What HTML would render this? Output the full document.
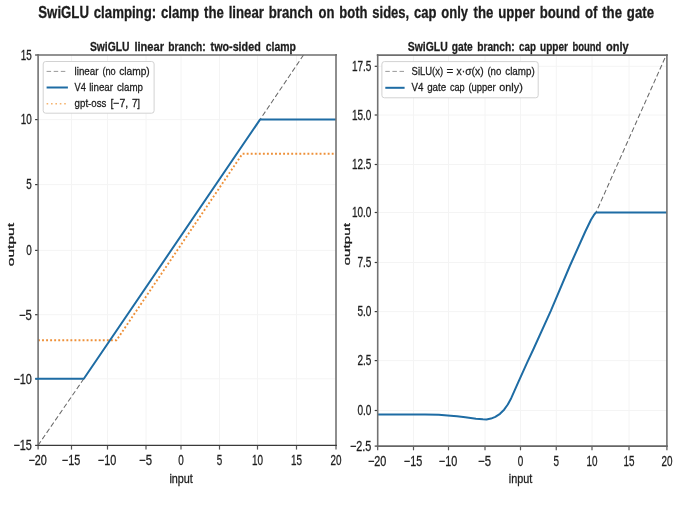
<!DOCTYPE html>
<html><head><meta charset="utf-8"><title>SwiGLU clamping</title>
<style>html,body{margin:0;padding:0;background:#fff;}body{width:680px;height:510px;overflow:hidden;}svg{display:block;filter:blur(0.35px);}text{font-family:"Liberation Sans", sans-serif;fill:#1c1c1c;stroke:#1c1c1c;stroke-width:0.28px;}</style>
</head><body>
<svg width="680" height="510" viewBox="0 0 680 510">
<rect x="-5" y="-5" width="690" height="520" fill="#ffffff"/>
<text x="38.3" y="18.3" font-size="15.6" font-weight="bold" text-anchor="start" textLength="274.5" lengthAdjust="spacingAndGlyphs" stroke-width="0.3" word-spacing="1.4">SwiGLU clamping: clamp the linear branch</text>
<text x="318.6" y="18.3" font-size="15.6" font-weight="bold" text-anchor="start" textLength="149.4" lengthAdjust="spacingAndGlyphs" stroke-width="0.3" word-spacing="1.4">on both sides, cap only</text>
<text x="473.6" y="18.3" font-size="15.6" font-weight="bold" text-anchor="start" textLength="180.4" lengthAdjust="spacingAndGlyphs" stroke-width="0.3" word-spacing="1.4">the upper bound of the gate</text>
<line x1="71.5" y1="55.0" x2="71.5" y2="445.4" stroke="#f4f4f4" stroke-width="1"/>
<line x1="107.5" y1="55.0" x2="107.5" y2="445.4" stroke="#f4f4f4" stroke-width="1"/>
<line x1="146" y1="55.0" x2="146" y2="445.4" stroke="#f4f4f4" stroke-width="1"/>
<line x1="181" y1="55.0" x2="181" y2="445.4" stroke="#f4f4f4" stroke-width="1"/>
<line x1="219.5" y1="55.0" x2="219.5" y2="445.4" stroke="#f4f4f4" stroke-width="1"/>
<line x1="257.5" y1="55.0" x2="257.5" y2="445.4" stroke="#f4f4f4" stroke-width="1"/>
<line x1="296.5" y1="55.0" x2="296.5" y2="445.4" stroke="#f4f4f4" stroke-width="1"/>
<line x1="38.1" y1="119.6" x2="336.0" y2="119.6" stroke="#f4f4f4" stroke-width="1"/>
<line x1="38.1" y1="184.6" x2="336.0" y2="184.6" stroke="#f4f4f4" stroke-width="1"/>
<line x1="38.1" y1="250.4" x2="336.0" y2="250.4" stroke="#f4f4f4" stroke-width="1"/>
<line x1="38.1" y1="314.7" x2="336.0" y2="314.7" stroke="#f4f4f4" stroke-width="1"/>
<line x1="38.1" y1="378.8" x2="336.0" y2="378.8" stroke="#f4f4f4" stroke-width="1"/>
<clipPath id="cl"><rect x="38.1" y="55.0" width="297.9" height="390.4"/></clipPath>
<g clip-path="url(#cl)" fill="none">
<line x1="38" y1="445.4" x2="83.8" y2="378.8" stroke="#6a6a6a" stroke-width="1.05" stroke-dasharray="5.0 2.6"/>
<line x1="260.0" y1="119.6" x2="303.5" y2="55.0" stroke="#6a6a6a" stroke-width="1.05" stroke-dasharray="5.0 2.6" stroke-dashoffset="3"/>
<polyline points="38,340.3 116.5,340.3 242.4,153.8 336,153.8" stroke="#ee9038" stroke-width="1.9" stroke-dasharray="1.9 2.15"/>
<polyline points="35.5,378.8 83.8,378.8 260.0,119.6 336,119.6" stroke="#1e6ca4" stroke-width="2.0" stroke-linejoin="round"/>
</g>
<line x1="38.1" y1="445.4" x2="38.1" y2="449.59999999999997" stroke="#555" stroke-width="1.2"/>
<text x="28.4" y="465.09999999999997" font-size="13.8" font-weight="normal" text-anchor="start" textLength="18.4" lengthAdjust="spacingAndGlyphs">−20</text>
<line x1="71.5" y1="445.4" x2="71.5" y2="449.59999999999997" stroke="#555" stroke-width="1.2"/>
<text x="61.8" y="465.09999999999997" font-size="13.8" font-weight="normal" text-anchor="start" textLength="18.4" lengthAdjust="spacingAndGlyphs">−15</text>
<line x1="107.5" y1="445.4" x2="107.5" y2="449.59999999999997" stroke="#555" stroke-width="1.2"/>
<text x="97.8" y="465.09999999999997" font-size="13.8" font-weight="normal" text-anchor="start" textLength="18.4" lengthAdjust="spacingAndGlyphs">−10</text>
<line x1="146" y1="445.4" x2="146" y2="449.59999999999997" stroke="#555" stroke-width="1.2"/>
<text x="139.1" y="465.09999999999997" font-size="13.8" font-weight="normal" text-anchor="start" textLength="12.9" lengthAdjust="spacingAndGlyphs">−5</text>
<line x1="181" y1="445.4" x2="181" y2="449.59999999999997" stroke="#555" stroke-width="1.2"/>
<text x="178.2" y="465.09999999999997" font-size="13.8" font-weight="normal" text-anchor="start" textLength="5.5" lengthAdjust="spacingAndGlyphs">0</text>
<line x1="219.5" y1="445.4" x2="219.5" y2="449.59999999999997" stroke="#555" stroke-width="1.2"/>
<text x="216.8" y="465.09999999999997" font-size="13.8" font-weight="normal" text-anchor="start" textLength="5.5" lengthAdjust="spacingAndGlyphs">5</text>
<line x1="257.5" y1="445.4" x2="257.5" y2="449.59999999999997" stroke="#555" stroke-width="1.2"/>
<text x="252.0" y="465.09999999999997" font-size="13.8" font-weight="normal" text-anchor="start" textLength="11.0" lengthAdjust="spacingAndGlyphs">10</text>
<line x1="296.5" y1="445.4" x2="296.5" y2="449.59999999999997" stroke="#555" stroke-width="1.2"/>
<text x="291.0" y="465.09999999999997" font-size="13.8" font-weight="normal" text-anchor="start" textLength="11.0" lengthAdjust="spacingAndGlyphs">15</text>
<line x1="336.0" y1="445.4" x2="336.0" y2="449.59999999999997" stroke="#555" stroke-width="1.2"/>
<text x="330.5" y="465.09999999999997" font-size="13.8" font-weight="normal" text-anchor="start" textLength="11.0" lengthAdjust="spacingAndGlyphs">20</text>
<line x1="35.1" y1="55.0" x2="38.1" y2="55.0" stroke="#3a3a3a" stroke-width="1.2"/>
<text x="20.8" y="59.85" font-size="13.8" font-weight="normal" text-anchor="start" textLength="11.0" lengthAdjust="spacingAndGlyphs">15</text>
<line x1="35.1" y1="119.6" x2="38.1" y2="119.6" stroke="#3a3a3a" stroke-width="1.2"/>
<text x="20.8" y="124.44999999999999" font-size="13.8" font-weight="normal" text-anchor="start" textLength="11.0" lengthAdjust="spacingAndGlyphs">10</text>
<line x1="35.1" y1="184.6" x2="38.1" y2="184.6" stroke="#3a3a3a" stroke-width="1.2"/>
<text x="26.3" y="189.45" font-size="13.8" font-weight="normal" text-anchor="start" textLength="5.5" lengthAdjust="spacingAndGlyphs">5</text>
<line x1="35.1" y1="250.4" x2="38.1" y2="250.4" stroke="#3a3a3a" stroke-width="1.2"/>
<text x="26.3" y="255.25" font-size="13.8" font-weight="normal" text-anchor="start" textLength="5.5" lengthAdjust="spacingAndGlyphs">0</text>
<line x1="35.1" y1="314.7" x2="38.1" y2="314.7" stroke="#3a3a3a" stroke-width="1.2"/>
<text x="18.9" y="319.55" font-size="13.8" font-weight="normal" text-anchor="start" textLength="12.9" lengthAdjust="spacingAndGlyphs">−5</text>
<line x1="35.1" y1="378.8" x2="38.1" y2="378.8" stroke="#3a3a3a" stroke-width="1.2"/>
<text x="13.4" y="383.65000000000003" font-size="13.8" font-weight="normal" text-anchor="start" textLength="18.4" lengthAdjust="spacingAndGlyphs">−10</text>
<line x1="35.1" y1="445.4" x2="38.1" y2="445.4" stroke="#3a3a3a" stroke-width="1.2"/>
<text x="13.4" y="450.25" font-size="13.8" font-weight="normal" text-anchor="start" textLength="18.4" lengthAdjust="spacingAndGlyphs">−15</text>
<line x1="38.1" y1="54.1" x2="38.1" y2="446.0" stroke="#727272" stroke-width="1.6"/>
<line x1="336.0" y1="54.1" x2="336.0" y2="446.0" stroke="#727272" stroke-width="1.6"/>
<line x1="37.2" y1="55.0" x2="336.9" y2="55.0" stroke="#6e6e6e" stroke-width="1.7"/>
<line x1="37.2" y1="445.4" x2="336.9" y2="445.4" stroke="#3a3a3a" stroke-width="1.3"/>
<line x1="35.3" y1="378.8" x2="39" y2="378.8" stroke="#1e6ca4" stroke-width="2.0"/>
<text x="89.9" y="51.0" font-size="12.8" font-weight="bold" text-anchor="start" textLength="39.6" lengthAdjust="spacingAndGlyphs" stroke-width="0.5">SwiGLU</text>
<text x="134.4" y="51.0" font-size="12.8" font-weight="bold" text-anchor="start" textLength="29.6" lengthAdjust="spacingAndGlyphs" stroke-width="0.5">linear</text>
<text x="168.3" y="51.0" font-size="12.8" font-weight="bold" text-anchor="start" textLength="37.4" lengthAdjust="spacingAndGlyphs" stroke-width="0.5">branch:</text>
<text x="210.6" y="51.0" font-size="12.8" font-weight="bold" text-anchor="start" textLength="50.1" lengthAdjust="spacingAndGlyphs" stroke-width="0.5">two-sided</text>
<text x="265.7" y="51.0" font-size="12.8" font-weight="bold" text-anchor="start" textLength="30.3" lengthAdjust="spacingAndGlyphs" stroke-width="0.5">clamp</text>
<text x="169.4" y="482.8" font-size="12" font-weight="normal" text-anchor="start" textLength="23.5" lengthAdjust="spacingAndGlyphs">input</text>
<text transform="translate(13.5,266.2) rotate(-90)" font-size="9.9" stroke-width="0.45" textLength="43.2" lengthAdjust="spacingAndGlyphs">output</text>
<rect x="43.2" y="61.5" width="110.9" height="51.7" rx="2.5" fill="#ffffff" fill-opacity="0.94" stroke="#d2d2d2" stroke-width="1"/>
<line x1="46.6" y1="71.4" x2="67.9" y2="71.4" stroke="#9a9a9a" stroke-width="1" stroke-dasharray="4.5 2.6"/>
<line x1="46.6" y1="87.5" x2="67.9" y2="87.5" stroke="#1e6ca4" stroke-width="2"/>
<line x1="46.6" y1="103.8" x2="67.9" y2="103.8" stroke="#f5b36e" stroke-width="1.6" stroke-dasharray="1.6 2.8"/>
<text x="74.6" y="74.9" font-size="11.5" font-weight="normal" text-anchor="start" textLength="23.9" lengthAdjust="spacingAndGlyphs">linear</text>
<text x="102.4" y="74.9" font-size="11.5" font-weight="normal" text-anchor="start" textLength="13.3" lengthAdjust="spacingAndGlyphs">(no</text>
<text x="119.2" y="74.9" font-size="11.5" font-weight="normal" text-anchor="start" textLength="30.5" lengthAdjust="spacingAndGlyphs">clamp)</text>
<text x="74.6" y="90.8" font-size="11.5" font-weight="normal" text-anchor="start" textLength="11.3" lengthAdjust="spacingAndGlyphs">V4</text>
<text x="89.2" y="90.8" font-size="11.5" font-weight="normal" text-anchor="start" textLength="23.8" lengthAdjust="spacingAndGlyphs">linear</text>
<text x="117" y="90.8" font-size="11.5" font-weight="normal" text-anchor="start" textLength="26" lengthAdjust="spacingAndGlyphs">clamp</text>
<text x="74.6" y="106.7" font-size="11.5" font-weight="normal" text-anchor="start" textLength="31.8" lengthAdjust="spacingAndGlyphs">gpt-oss</text>
<text x="110.4" y="106.7" font-size="11.5" font-weight="normal" text-anchor="start" textLength="17.8" lengthAdjust="spacingAndGlyphs">[−7,</text>
<text x="131.9" y="106.7" font-size="11.5" font-weight="normal" text-anchor="start" textLength="8.2" lengthAdjust="spacingAndGlyphs">7]</text>
<line x1="413.5" y1="55.2" x2="413.5" y2="446.1" stroke="#f4f4f4" stroke-width="1"/>
<line x1="448.5" y1="55.2" x2="448.5" y2="446.1" stroke="#f4f4f4" stroke-width="1"/>
<line x1="485" y1="55.2" x2="485" y2="446.1" stroke="#f4f4f4" stroke-width="1"/>
<line x1="520.5" y1="55.2" x2="520.5" y2="446.1" stroke="#f4f4f4" stroke-width="1"/>
<line x1="556.25" y1="55.2" x2="556.25" y2="446.1" stroke="#f4f4f4" stroke-width="1"/>
<line x1="592" y1="55.2" x2="592" y2="446.1" stroke="#f4f4f4" stroke-width="1"/>
<line x1="629" y1="55.2" x2="629" y2="446.1" stroke="#f4f4f4" stroke-width="1"/>
<line x1="377.7" y1="66.3" x2="666.9" y2="66.3" stroke="#f4f4f4" stroke-width="1"/>
<line x1="377.7" y1="115" x2="666.9" y2="115" stroke="#f4f4f4" stroke-width="1"/>
<line x1="377.7" y1="164.5" x2="666.9" y2="164.5" stroke="#f4f4f4" stroke-width="1"/>
<line x1="377.7" y1="212.5" x2="666.9" y2="212.5" stroke="#f4f4f4" stroke-width="1"/>
<line x1="377.7" y1="262.5" x2="666.9" y2="262.5" stroke="#f4f4f4" stroke-width="1"/>
<line x1="377.7" y1="311.6" x2="666.9" y2="311.6" stroke="#f4f4f4" stroke-width="1"/>
<line x1="377.7" y1="360.6" x2="666.9" y2="360.6" stroke="#f4f4f4" stroke-width="1"/>
<line x1="377.7" y1="410.5" x2="666.9" y2="410.5" stroke="#f4f4f4" stroke-width="1"/>
<clipPath id="cr"><rect x="377.7" y="55.2" width="289.2" height="390.90000000000003"/></clipPath>
<g clip-path="url(#cr)" fill="none">
<line x1="596" y1="212.5" x2="665.6" y2="56.5" stroke="#6a6a6a" stroke-width="1.05" stroke-dasharray="5.0 2.6" stroke-dashoffset="3"/>
<polyline points="377.5,414.4 400,414.4 425,414.5 438.8,414.8 447.6,415.4 457,416.3 465.3,417.3 476,418.7 482.9,419.35 486.5,419.4 491,418.6 495.3,416.8 500,413.8 504.1,409.7 507.8,404.5 511.2,398.2 518.2,382.4 527,362.9 533.5,349 550.8,310.8 569.6,266.5 585.3,231.5 591,219.8 593.8,215.2 595.8,212.6 667,212.6" stroke="#1e6ca4" stroke-width="2.0" stroke-linejoin="round"/>
</g>
<line x1="377.7" y1="446.1" x2="377.7" y2="450.3" stroke="#555" stroke-width="1.2"/>
<text x="368.0" y="465.8" font-size="13.8" font-weight="normal" text-anchor="start" textLength="18.4" lengthAdjust="spacingAndGlyphs">−20</text>
<line x1="413.5" y1="446.1" x2="413.5" y2="450.3" stroke="#555" stroke-width="1.2"/>
<text x="403.8" y="465.8" font-size="13.8" font-weight="normal" text-anchor="start" textLength="18.4" lengthAdjust="spacingAndGlyphs">−15</text>
<line x1="448.5" y1="446.1" x2="448.5" y2="450.3" stroke="#555" stroke-width="1.2"/>
<text x="438.8" y="465.8" font-size="13.8" font-weight="normal" text-anchor="start" textLength="18.4" lengthAdjust="spacingAndGlyphs">−10</text>
<line x1="485" y1="446.1" x2="485" y2="450.3" stroke="#555" stroke-width="1.2"/>
<text x="478.1" y="465.8" font-size="13.8" font-weight="normal" text-anchor="start" textLength="12.9" lengthAdjust="spacingAndGlyphs">−5</text>
<line x1="520.5" y1="446.1" x2="520.5" y2="450.3" stroke="#555" stroke-width="1.2"/>
<text x="517.8" y="465.8" font-size="13.8" font-weight="normal" text-anchor="start" textLength="5.5" lengthAdjust="spacingAndGlyphs">0</text>
<line x1="556.25" y1="446.1" x2="556.25" y2="450.3" stroke="#555" stroke-width="1.2"/>
<text x="553.5" y="465.8" font-size="13.8" font-weight="normal" text-anchor="start" textLength="5.5" lengthAdjust="spacingAndGlyphs">5</text>
<line x1="592" y1="446.1" x2="592" y2="450.3" stroke="#555" stroke-width="1.2"/>
<text x="586.5" y="465.8" font-size="13.8" font-weight="normal" text-anchor="start" textLength="11.0" lengthAdjust="spacingAndGlyphs">10</text>
<line x1="629" y1="446.1" x2="629" y2="450.3" stroke="#555" stroke-width="1.2"/>
<text x="623.5" y="465.8" font-size="13.8" font-weight="normal" text-anchor="start" textLength="11.0" lengthAdjust="spacingAndGlyphs">15</text>
<line x1="666.9" y1="446.1" x2="666.9" y2="450.3" stroke="#555" stroke-width="1.2"/>
<text x="661.4" y="465.8" font-size="13.8" font-weight="normal" text-anchor="start" textLength="11.0" lengthAdjust="spacingAndGlyphs">20</text>
<line x1="374.7" y1="66.3" x2="377.7" y2="66.3" stroke="#3a3a3a" stroke-width="1.2"/>
<text x="351.9" y="71.14999999999999" font-size="13.8" font-weight="normal" text-anchor="start" textLength="19.5" lengthAdjust="spacingAndGlyphs">17.5</text>
<line x1="374.7" y1="115" x2="377.7" y2="115" stroke="#3a3a3a" stroke-width="1.2"/>
<text x="351.9" y="119.85" font-size="13.8" font-weight="normal" text-anchor="start" textLength="19.5" lengthAdjust="spacingAndGlyphs">15.0</text>
<line x1="374.7" y1="164.5" x2="377.7" y2="164.5" stroke="#3a3a3a" stroke-width="1.2"/>
<text x="351.9" y="169.35" font-size="13.8" font-weight="normal" text-anchor="start" textLength="19.5" lengthAdjust="spacingAndGlyphs">12.5</text>
<line x1="374.7" y1="212.5" x2="377.7" y2="212.5" stroke="#3a3a3a" stroke-width="1.2"/>
<text x="351.9" y="217.35" font-size="13.8" font-weight="normal" text-anchor="start" textLength="19.5" lengthAdjust="spacingAndGlyphs">10.0</text>
<line x1="374.7" y1="262.5" x2="377.7" y2="262.5" stroke="#3a3a3a" stroke-width="1.2"/>
<text x="357.4" y="267.35" font-size="13.8" font-weight="normal" text-anchor="start" textLength="14.0" lengthAdjust="spacingAndGlyphs">7.5</text>
<line x1="374.7" y1="311.6" x2="377.7" y2="311.6" stroke="#3a3a3a" stroke-width="1.2"/>
<text x="357.4" y="316.45000000000005" font-size="13.8" font-weight="normal" text-anchor="start" textLength="14.0" lengthAdjust="spacingAndGlyphs">5.0</text>
<line x1="374.7" y1="360.6" x2="377.7" y2="360.6" stroke="#3a3a3a" stroke-width="1.2"/>
<text x="357.4" y="365.45000000000005" font-size="13.8" font-weight="normal" text-anchor="start" textLength="14.0" lengthAdjust="spacingAndGlyphs">2.5</text>
<line x1="374.7" y1="410.5" x2="377.7" y2="410.5" stroke="#3a3a3a" stroke-width="1.2"/>
<text x="357.4" y="415.35" font-size="13.8" font-weight="normal" text-anchor="start" textLength="14.0" lengthAdjust="spacingAndGlyphs">0.0</text>
<line x1="374.7" y1="446.1" x2="377.7" y2="446.1" stroke="#3a3a3a" stroke-width="1.2"/>
<text x="350.0" y="450.95000000000005" font-size="13.8" font-weight="normal" text-anchor="start" textLength="21.4" lengthAdjust="spacingAndGlyphs">−2.5</text>
<line x1="377.7" y1="54.300000000000004" x2="377.7" y2="446.70000000000005" stroke="#727272" stroke-width="1.6"/>
<line x1="666.9" y1="54.300000000000004" x2="666.9" y2="446.70000000000005" stroke="#727272" stroke-width="1.6"/>
<line x1="376.8" y1="55.2" x2="667.8" y2="55.2" stroke="#6e6e6e" stroke-width="1.7"/>
<line x1="376.8" y1="446.1" x2="667.8" y2="446.1" stroke="#666666" stroke-width="1.9"/>
<text x="407.8" y="51.0" font-size="12.8" font-weight="bold" text-anchor="start" textLength="39.9" lengthAdjust="spacingAndGlyphs" stroke-width="0.5">SwiGLU</text>
<text x="451.8" y="51.0" font-size="12.8" font-weight="bold" text-anchor="start" textLength="21.0" lengthAdjust="spacingAndGlyphs" stroke-width="0.5">gate</text>
<text x="477.2" y="51.0" font-size="12.8" font-weight="bold" text-anchor="start" textLength="37.4" lengthAdjust="spacingAndGlyphs" stroke-width="0.5">branch:</text>
<text x="519.1" y="51.0" font-size="12.8" font-weight="bold" text-anchor="start" textLength="16.8" lengthAdjust="spacingAndGlyphs" stroke-width="0.5">cap</text>
<text x="540.1" y="51.0" font-size="12.8" font-weight="bold" text-anchor="start" textLength="27.9" lengthAdjust="spacingAndGlyphs" stroke-width="0.5">upper</text>
<text x="572.4" y="51.0" font-size="12.8" font-weight="bold" text-anchor="start" textLength="29.0" lengthAdjust="spacingAndGlyphs" stroke-width="0.5">bound</text>
<text x="605.9" y="51.0" font-size="12.8" font-weight="bold" text-anchor="start" textLength="22.7" lengthAdjust="spacingAndGlyphs" stroke-width="0.5">only</text>
<text x="508.8" y="482.8" font-size="12" font-weight="normal" text-anchor="start" textLength="23.5" lengthAdjust="spacingAndGlyphs">input</text>
<text transform="translate(349.9,265.5) rotate(-90)" font-size="9.9" stroke-width="0.45" textLength="42.5" lengthAdjust="spacingAndGlyphs">output</text>
<rect x="381.9" y="61.6" width="156.3" height="36.2" rx="2.5" fill="#ffffff" fill-opacity="0.94" stroke="#d2d2d2" stroke-width="1"/>
<line x1="385.3" y1="71.4" x2="404.6" y2="71.4" stroke="#9a9a9a" stroke-width="1" stroke-dasharray="4.5 2.6"/>
<line x1="385.3" y1="87.8" x2="404.6" y2="87.8" stroke="#1e6ca4" stroke-width="2"/>
<text x="411.6" y="75.0" font-size="11.5" font-weight="normal" text-anchor="start" textLength="31.5" lengthAdjust="spacingAndGlyphs">SiLU(x)</text>
<text x="446.6" y="75.0" font-size="11.5" font-weight="normal" text-anchor="start" textLength="6.8" lengthAdjust="spacingAndGlyphs">=</text>
<text x="456.5" y="75.0" font-size="11.5" font-weight="normal" text-anchor="start" textLength="27.1" lengthAdjust="spacingAndGlyphs">x·σ(x)</text>
<text x="487.4" y="75.0" font-size="11.5" font-weight="normal" text-anchor="start" textLength="14.0" lengthAdjust="spacingAndGlyphs">(no</text>
<text x="505.3" y="75.0" font-size="11.5" font-weight="normal" text-anchor="start" textLength="29.4" lengthAdjust="spacingAndGlyphs">clamp)</text>
<text x="411.6" y="90.9" font-size="11.5" font-weight="normal" text-anchor="start" textLength="11.9" lengthAdjust="spacingAndGlyphs">V4</text>
<text x="427.2" y="90.9" font-size="11.5" font-weight="normal" text-anchor="start" textLength="19.0" lengthAdjust="spacingAndGlyphs">gate</text>
<text x="449.9" y="90.9" font-size="11.5" font-weight="normal" text-anchor="start" textLength="14.8" lengthAdjust="spacingAndGlyphs">cap</text>
<text x="468.4" y="90.9" font-size="11.5" font-weight="normal" text-anchor="start" textLength="27.2" lengthAdjust="spacingAndGlyphs">(upper</text>
<text x="499.3" y="90.9" font-size="11.5" font-weight="normal" text-anchor="start" textLength="23.5" lengthAdjust="spacingAndGlyphs">only)</text>
</svg>
</body></html>
